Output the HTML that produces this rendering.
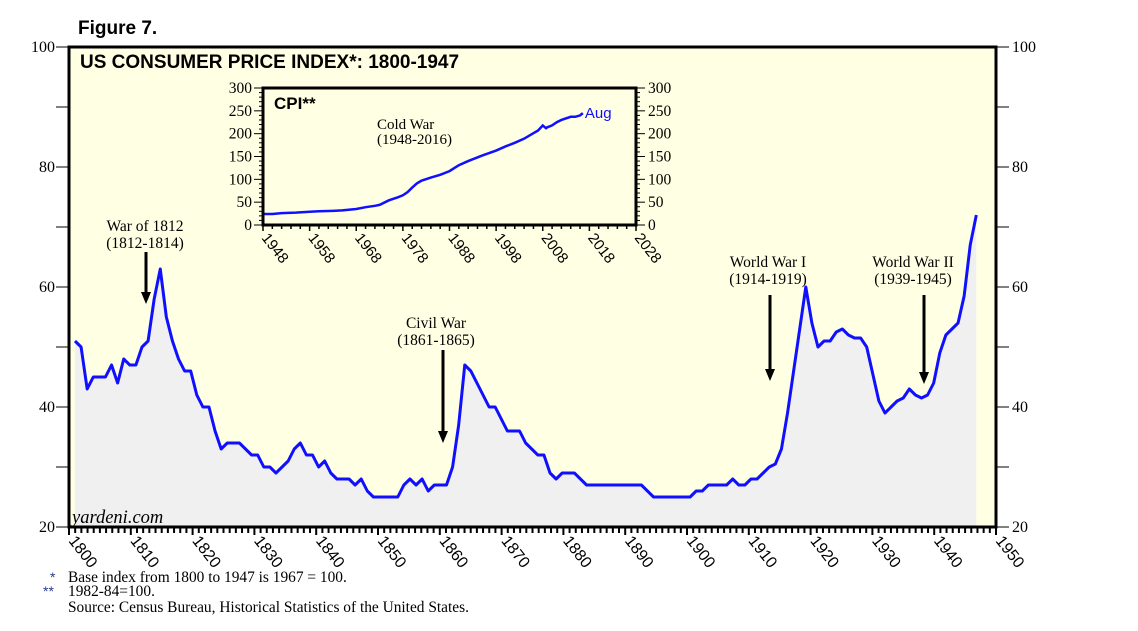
<!DOCTYPE html>
<html><head><meta charset="utf-8"><style>
body{margin:0;background:#fff;width:1138px;height:626px;overflow:hidden}
svg text{font-family:"Liberation Serif",serif}
.s{font-family:"Liberation Sans",sans-serif}
</style></head><body>
<svg id="c" width="1138" height="626" xmlns="http://www.w3.org/2000/svg">
<text x="78" y="34" class="s" font-size="19" font-weight="bold">Figure 7.</text>
<rect x="69" y="47" width="927" height="480" fill="#ffffe3"/>
<g id="main"></g>
<rect x="69" y="47" width="927" height="480" fill="none" stroke="#000" stroke-width="3"/>
<text x="80" y="68" class="s" font-size="19" font-weight="bold">US CONSUMER PRICE INDEX*: 1800-1947</text>
<text x="72" y="523" font-size="18.5" font-style="italic">yardeni.com</text>
<g id="ann"></g>
<rect x="263" y="88" width="373" height="137" fill="#ffffe3"/>
<g id="inset"></g>
<rect x="263" y="88" width="373" height="137" fill="none" stroke="#000" stroke-width="3"/>
<text x="274" y="109" class="s" font-size="17" font-weight="bold">CPI**</text>
<text x="377" y="129" font-size="15">Cold War</text>
<text x="377" y="144" font-size="15">(1948-2016)</text>
<text x="50" y="582" class="s" font-size="14" fill="#2a3a8a">*</text>
<text x="68" y="582" font-size="15.4">Base index from 1800 to 1947 is 1967 = 100.</text>
<text x="43" y="596" class="s" font-size="14" fill="#2a3a8a">**</text>
<text x="68" y="596" font-size="15.4">1982-84=100.</text>
<text x="68" y="612" font-size="15.4">Source: Census Bureau, Historical Statistics of the United States.</text>
</svg>
<script>
const mainYears=[1800,1801,1802,1803,1804,1805,1806,1807,1808,1809,1810,1811,1812,1813,1814,1815,1816,1817,1818,1819,1820,1821,1822,1823,1824,1825,1826,1827,1828,1829,1830,1831,1832,1833,1834,1835,1836,1837,1838,1839,1840,1841,1842,1843,1844,1845,1846,1847,1848,1849,1850,1851,1852,1853,1854,1855,1856,1857,1858,1859,1860,1861,1862,1863,1864,1865,1866,1867,1868,1869,1870,1871,1872,1873,1874,1875,1876,1877,1878,1879,1880,1881,1882,1883,1884,1885,1886,1887,1888,1889,1890,1891,1892,1893,1894,1895,1896,1897,1898,1899,1900,1901,1902,1903,1904,1905,1906,1907,1908,1909,1910,1911,1912,1913,1914,1915,1916,1917,1918,1919,1920,1921,1922,1923,1924,1925,1926,1927,1928,1929,1930,1931,1932,1933,1934,1935,1936,1937,1938,1939,1940,1941,1942,1943,1944,1945,1946,1947,1948];
const mainValues=[51,50,43,45,45,45,47,44,48,47,47,50,51,58,63,55,51,48,46,46,42,40,40,36,33,34,34,34,33,32,32,30,30,29,30,31,33,34,32,32,30,31,29,28,28,28,27,28,26,25,25,25,25,25,27,28,27,28,26,27,27,27,30,37,47,46,44,42,40,40,38,36,36,36,34,33,32,32,29,28,29,29,29,28,27,27,27,27,27,27,27,27,27,27,26,25,25,25,25,25,25,25,26,26,27,27,27,27,28,27,27,28,28,29,30,30.5,33,39,46,53,60,54,50,51,51,52.5,53,52,51.5,51.5,50,45.5,41,39,40,41,41.5,43,42,41.5,42,44,49,52,53,54,58.5,67,72];
const mainYTicks=[20,40,60,80,100];
const mainXTicks=[1800,1810,1820,1830,1840,1850,1860,1870,1880,1890,1900,1910,1920,1930,1940,1950];
const insetYears=[1948,1950,1952,1955,1958,1960,1963,1965,1968,1970,1972,1973,1975,1977,1978,1979,1980,1981,1982,1984,1986,1988,1990,1992,1995,1998,2000,2002,2004,2006,2007,2008,2008.7,2009,2010,2011,2012,2014,2015,2016,2016.6];
const insetValues=[24,24,26,27,29,30,31,32,35,39,42,44,54,61,65,72,82,91,97,104,110,118,131,140,152,163,172,180,189,201,207,218,212,214,218,225,230,237,237,240,245];
const insetYTicks=[0,50,100,150,200,250,300];
const insetXTicks=[1948,1958,1968,1978,1988,1998,2008,2018,2028];
const annotations=[{t1:"War of 1812",t2:"(1812-1814)",tx:145,ty:231,ax:146,y1:252,y2:304},{t1:"Civil War",t2:"(1861-1865)",tx:436,ty:328,ax:443,y1:350,y2:443},{t1:"World War I",t2:"(1914-1919)",tx:768,ty:267,ax:770,y1:295,y2:381},{t1:"World War II",t2:"(1939-1945)",tx:913,ty:267,ax:924,y1:295,y2:384}];
const NS="http://www.w3.org/2000/svg";
function mk(p,tag,a,txt){const e=document.createElementNS(NS,tag);for(const k in a)e.setAttribute(k,a[k]);if(txt!==undefined)e.textContent=txt;p.appendChild(e);return e;}
const X=y=>69+(y-1800)*927/150, Y=v=>527-(v-20)*480/80;
const XD=y=>75+(y-1800)*6.09;
const IX=y=>263+(y-1948)*373/80, IY=v=>225-v*137/300;
const g=document.getElementById('main');
let d="M"+XD(mainYears[0])+","+Y(20);
mainYears.forEach((y,i)=>d+="L"+XD(y)+","+Y(mainValues[i]));
d+="L"+XD(mainYears[mainYears.length-1])+","+Y(20)+"Z";
let area=mk(g,'path',{d:d,fill:'#f0f0f0'});


let ld=mainYears.map((y,i)=>(i?"L":"M")+XD(y)+","+Y(mainValues[i])).join("");
let line=mk(g,'path',{d:ld,fill:'none',stroke:'#1010ff','stroke-width':3,'stroke-linejoin':'round'});


for(let y=1800;y<=1950;y++){mk(g,'line',{x1:X(y),x2:X(y),y1:527,y2:y%10?533:535,stroke:'#000','stroke-width':2});}
for(let v=30;v<100;v+=20){mk(g,'line',{x1:56,x2:69,y1:Y(v),y2:Y(v),stroke:'#000'});mk(g,'line',{x1:996,x2:1009,y1:Y(v),y2:Y(v),stroke:'#000'});}
mainYTicks.forEach(v=>{mk(g,'line',{x1:56,x2:69,y1:Y(v),y2:Y(v),stroke:'#000'});mk(g,'line',{x1:996,x2:1009,y1:Y(v),y2:Y(v),stroke:'#000'});
let a=mk(g,'text',{x:55,y:Y(v)+5,'text-anchor':'end','font-size':16},v);
let b=mk(g,'text',{x:1012,y:Y(v)+5,'font-size':16},v);});
mainXTicks.forEach(y=>{let t=mk(g,'text',{x:0,y:0,'font-size':16,class:'s',transform:`translate(${X(y)-1},${541}) rotate(52)`},y);});
const an=document.getElementById('ann');
annotations.forEach(o=>{let t=mk(an,'text',{x:o.tx,y:o.ty,'text-anchor':'middle','font-size':15.5},o.t1);
let t2=mk(an,'text',{x:o.tx,y:o.ty+17,'text-anchor':'middle','font-size':15.5},o.t2);
mk(an,'line',{x1:o.ax,x2:o.ax,y1:o.y1,y2:o.y2-10,stroke:'#000','stroke-width':3});
let ar=mk(an,'polygon',{points:`${o.ax-5},${o.y2-12} ${o.ax+5},${o.y2-12} ${o.ax},${o.y2}`,fill:'#000'});});
const gi=document.getElementById('inset');
let il=insetYears.map((y,i)=>(i?"L":"M")+IX(y)+","+IY(insetValues[i])).join("");
let l2=mk(gi,'path',{d:il,fill:'none',stroke:'#1010ff','stroke-width':2.5});


let au=mk(gi,'text',{x:IX(insetYears[insetYears.length-1])+2,y:IY(insetValues[insetValues.length-1])+5,'font-size':15,class:'s',fill:'#1010ff'},'Aug');


for(let y=1948;y<=2028;y+=2)mk(gi,'line',{x1:IX(y),x2:IX(y),y1:225,y2:(y-1948)%10?229:231,stroke:'#000','stroke-width':1.5});
for(let v=0;v<=300;v+=10){const w=v%50?4:9;mk(gi,'line',{x1:263-w,x2:263,y1:IY(v),y2:IY(v),stroke:'#000'});mk(gi,'line',{x1:636,x2:636+w,y1:IY(v),y2:IY(v),stroke:'#000'});}
insetYTicks.forEach(v=>{let a=mk(gi,'text',{x:252,y:IY(v)+5,'text-anchor':'end','font-size':15.5},v);
let b=mk(gi,'text',{x:648,y:IY(v)+5,'font-size':15.5},v);});
insetXTicks.forEach(y=>{let t=mk(gi,'text',{x:0,y:0,'font-size':15,class:'s',transform:`translate(${IX(y)-2},${238}) rotate(52)`},y);});
</script>
</body></html>
